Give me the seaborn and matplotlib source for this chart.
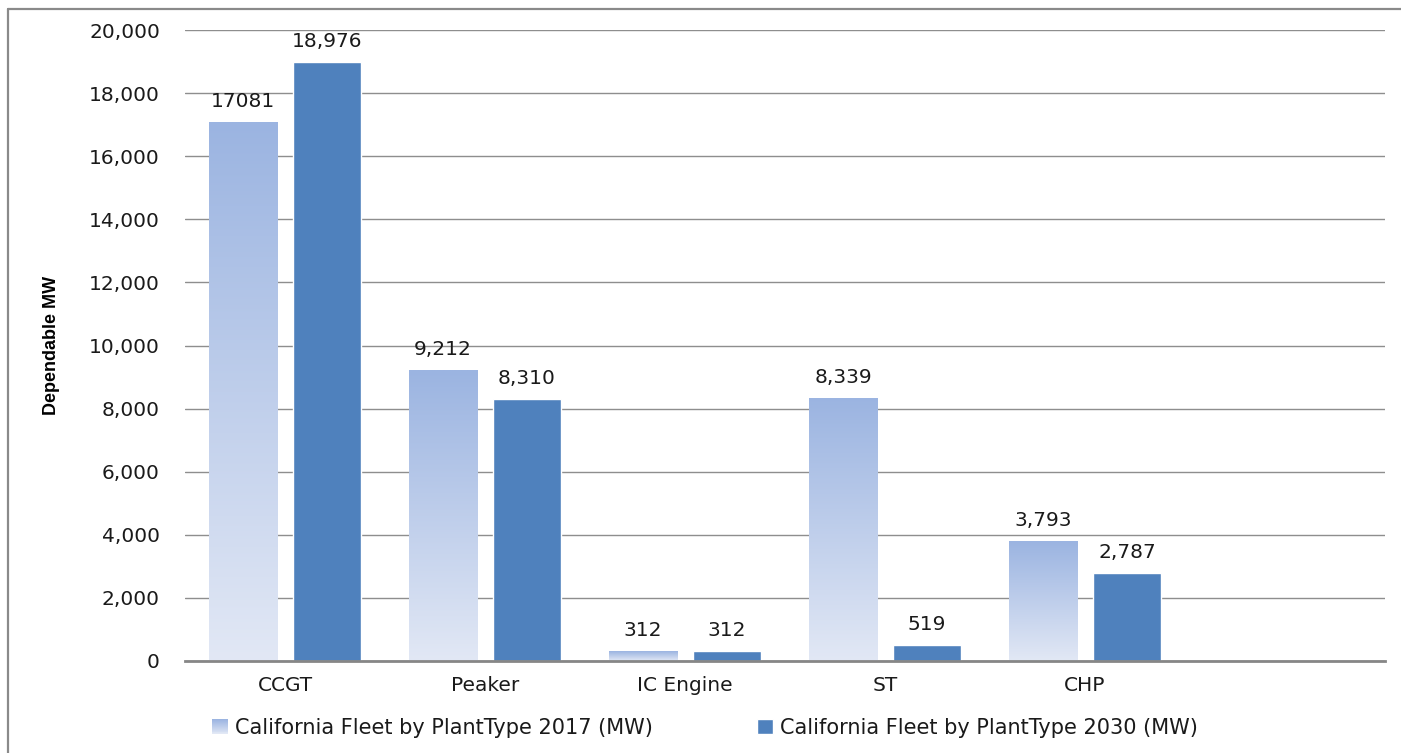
import numpy as np
import pandas as pd
import matplotlib
matplotlib.use("Agg")
import matplotlib.pyplot as plt
from matplotlib.colors import LinearSegmentedColormap
from matplotlib.patches import Rectangle, Patch
from matplotlib.lines import Line2D
from matplotlib.legend_handler import HandlerBase
from matplotlib.ticker import FuncFormatter
import seaborn as sns

# ---- data -------------------------------------------------------------
categories = ["CCGT", "Peaker", "IC Engine", "ST", "CHP"]
fleet_2017 = [17081, 9212, 312, 8339, 3793]
fleet_2030 = [18976, 8310, 312, 519, 2787]
labels_2017 = ["17081", "9,212", "312", "8,339", "3,793"]
labels_2030 = ["18,976", "8,310", "312", "519", "2,787"]
series_names = ["California Fleet by PlantType 2017 (MW)",
                "California Fleet by PlantType 2030 (MW)"]
y_ticks = [0, 2000, 4000, 6000, 8000, 10000, 12000, 14000, 16000, 18000, 20000]
y_label = "Dependable MW"

# ---- style ------------------------------------------------------------
sns.set_theme(style="white")
plt.rcParams["font.family"] = ["DejaVu Sans"]

BLUE_2030 = "#4F81BD"
TOP_2017 = "#9BB4E1"
BOTTOM_2017 = "#E2E8F5"
grad_cmap = LinearSegmentedColormap.from_list("fleet2017", [BOTTOM_2017, TOP_2017])
GRID = "#8E8E8E"
AXIS = "#868686"
TEXT = "#1a1a1a"
FS = 14.5

df = pd.DataFrame({
    "category": categories * 2,
    "mw": fleet_2017 + fleet_2030,
    "series": [series_names[0]] * len(categories) + [series_names[1]] * len(categories),
})

fig = plt.figure(figsize=(14.01, 7.53), dpi=100)
ax = fig.add_axes([185 / 1401, 1 - 661 / 753, 1200 / 1401, 631 / 753])

sns.barplot(data=df, x="category", y="mw", hue="series", order=categories,
            hue_order=series_names,
            palette={series_names[0]: TOP_2017, series_names[1]: BLUE_2030},
            saturation=1, width=0.84, gap=0.19, errorbar=None, legend=False,
            ax=ax, zorder=3)

# vertical gradient fill on the 2017 bars
grad = np.linspace(0, 1, 256).reshape(-1, 1)
for bar in ax.containers[0]:
    x0, y0 = bar.get_x(), bar.get_y()
    w, h = bar.get_width(), bar.get_height()
    bar.set_facecolor("none")
    bar.set_edgecolor("none")
    im = ax.imshow(grad, cmap=grad_cmap, origin="lower", aspect="auto",
                   extent=(x0, x0 + w, y0, y0 + h), zorder=3)
    im.set_clip_path(bar)

for cont, labs in zip(ax.containers, [labels_2017, labels_2030]):
    ax.bar_label(cont, labels=labs, padding=8, fontsize=FS, color=TEXT)

ax.set_xlim(-0.5, 5.5)
ax.set_ylim(0, 20000)
ax.set_xticks(range(len(categories)))
ax.set_xticklabels(categories)
ax.set_yticks(y_ticks)
ax.yaxis.set_major_formatter(FuncFormatter(lambda v, _: f"{int(v):,}"))
ax.tick_params(axis="both", length=0, labelsize=FS, labelcolor=TEXT)
ax.tick_params(axis="y", pad=18)
ax.tick_params(axis="x", pad=11)
ax.set_xlabel("")
ax.set_ylabel(y_label, fontsize=13, fontweight="bold", family="Liberation Sans",
              color="black")
ax.yaxis.set_label_coords(-0.104, 0.5)

ax.grid(axis="y", color=GRID, linewidth=1.0, zorder=0)
ax.set_axisbelow(True)
for side in ["top", "right", "left"]:
    ax.spines[side].set_visible(False)
ax.spines["bottom"].set_color(AXIS)
ax.spines["bottom"].set_linewidth(2.0)
ax.spines["bottom"].set_zorder(4)


class GradientSquare(HandlerBase):
    def create_artists(self, legend, orig_handle, xdescent, ydescent,
                       width, height, fontsize, trans):
        n = 16
        strips = []
        for i in range(n):
            strips.append(Rectangle((-xdescent, -ydescent + i * height / n),
                                    width, height / n + 0.05,
                                    facecolor=grad_cmap(i / (n - 1)),
                                    edgecolor="none", transform=trans))
        return strips


handle_2017 = Patch(facecolor=TOP_2017, label=series_names[0])
handle_2030 = Patch(facecolor=BLUE_2030, label=series_names[1])
fig.legend(handles=[handle_2017, handle_2030], labels=series_names,
           handler_map={handle_2017: GradientSquare()},
           loc="center", bbox_to_anchor=(705 / 1401, 1 - 728 / 753),
           ncol=2, frameon=False, fontsize=15, handlelength=0.75,
           handleheight=0.75, handletextpad=0.35, columnspacing=5.0,
           labelcolor=TEXT)

# outer frame lines
fig.add_artist(Line2D([8 / 1401, 8 / 1401], [0, 1 - 9 / 753],
                      transform=fig.transFigure, color="#8A8A8A", linewidth=1.6))
fig.add_artist(Line2D([8 / 1401, 1], [1 - 9 / 753, 1 - 9 / 753],
                      transform=fig.transFigure, color="#8A8A8A", linewidth=1.6))

fig.savefig("out.png", dpi=100, facecolor="white")
